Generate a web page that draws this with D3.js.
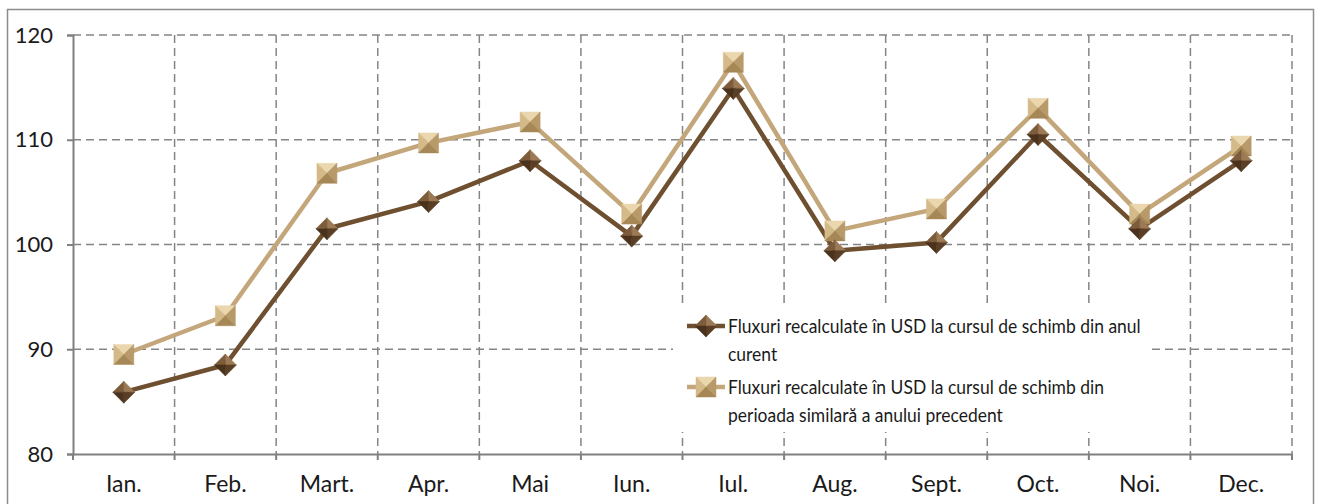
<!DOCTYPE html>
<html>
<head>
<meta charset="utf-8">
<script src="https://cdn.jsdelivr.net/npm/d3@7"></script>
<style>
  body { margin: 0; background: #fff; }
  text { font-family: "Lato", sans-serif; fill: #1a1a1a; }
</style>
</head>
<body>
<div id="chart"></div>
<script>
var months = ["Ian.", "Feb.", "Mart.", "Apr.", "Mai", "Iun.", "Iul.", "Aug.", "Sept.", "Oct.", "Noi.", "Dec."];
var curent = [85.9, 88.5, 101.5, 104.1, 108.0, 100.8, 114.9, 99.4, 100.2, 110.5, 101.5, 108.0];
var precedent = [89.5, 93.2, 106.8, 109.7, 111.7, 102.9, 117.4, 101.3, 103.4, 113.0, 102.9, 109.4];
var yTicks = [80, 90, 100, 110, 120];
var names = ["Fluxuri recalculate în USD la cursul de schimb din anul|curent",
             "Fluxuri recalculate în USD la cursul de schimb din|perioada similară a anului precedent"];

var width = 1324, height = 504;
var margin = {left: 73, right: 32, top: 35, bottom: 50};

var svg = d3.select("#chart").append("svg")
  .attr("width", width)
  .attr("height", height);

// outer frame
svg.append("rect")
  .attr("x", 7.5).attr("y", 9.5)
  .attr("width", 1306).attr("height", 520)
  .attr("fill", "none").attr("stroke", "#8c8c8c").attr("stroke-width", 1.5);

var x = d3.scaleBand().domain(months).range([margin.left, width - margin.right]);
var y = d3.scaleLinear().domain([80, 120]).range([height - margin.bottom, margin.top]);

var plot = svg.append("g");

// grid
plot.selectAll(".hgrid").data(yTicks.slice(1)).enter().append("line")
  .attr("x1", margin.left).attr("x2", width - margin.right)
  .attr("y1", function(d) { return y(d); }).attr("y2", function(d) { return y(d); })
  .attr("stroke", "#858585").attr("stroke-width", 1.5).attr("stroke-dasharray", "8,5");

var vx = months.map(function(m) { return x(m) + x.bandwidth(); });
plot.selectAll(".vgrid").data(vx).enter().append("line")
  .attr("x1", function(d) { return d; }).attr("x2", function(d) { return d; })
  .attr("y1", margin.top).attr("y2", y(80))
  .attr("stroke", "#858585").attr("stroke-width", 1.5).attr("stroke-dasharray", "8,5");

// axes
var yAxis = d3.axisLeft(y).tickValues(yTicks).tickSize(6).tickPadding(14);
var gy = svg.append("g").attr("transform", "translate(" + margin.left + ",0)").call(yAxis);
gy.select(".domain").attr("stroke", "#808080").attr("stroke-width", 2);
gy.selectAll(".tick line").attr("stroke", "#808080").attr("stroke-width", 2);
gy.selectAll("text").style("font-size", "22px").attr("fill", "#1a1a1a");

var xAxis = d3.axisBottom(x).tickSize(0).tickPadding(22);
var gx = svg.append("g").attr("transform", "translate(0," + y(80) + ")").call(xAxis);
gx.select(".domain").attr("stroke", "#808080").attr("stroke-width", 2);
gx.selectAll("text").style("font-size", "23px").attr("fill", "#1a1a1a");
gx.selectAll(".xt").data([margin.left].concat(vx)).enter().append("line")
  .attr("x1", function(d) { return d; }).attr("x2", function(d) { return d; })
  .attr("y1", 0).attr("y2", 6)
  .attr("stroke", "#808080").attr("stroke-width", 2);

// legend box
var lg = svg.append("g");
lg.append("rect").attr("x", 673).attr("y", 306).attr("width", 474).attr("height", 126).attr("fill", "#fff");

var series = [
  {values: curent, color: "#6e4f30", shape: "diamond",
   faces: ["#9c7a55", "#7d5c3b", "#5a3e25", "#4a321d"]},
  {values: precedent, color: "#c3a67a", shape: "square",
   faces: ["#ead7ae", "#d4ba88", "#b89a6a", "#a68856"]}
];

var line = d3.line()
  .x(function(d, i) { return x(months[i]) + x.bandwidth() / 2; })
  .y(function(d) { return y(d); });

// pyramid-like bevelled marker: four triangles meeting at the centre
function marker(sel, s, cx, cy) {
  var pts;
  if (s.shape === "diamond") {
    var r = 11;
    pts = [[cx, cy - r], [cx + r, cy], [cx, cy + r], [cx - r, cy]];
  } else {
    var h = 10;
    pts = [[cx - h, cy - h], [cx + h, cy - h], [cx + h, cy + h], [cx - h, cy + h]];
  }
  // face order: top, left, right, bottom
  var tris = [[pts[0], pts[1]], [pts[3], pts[0]], [pts[1], pts[2]], [pts[2], pts[3]]];
  var g = sel.append("g");
  tris.forEach(function(t, k) {
    g.append("path")
      .attr("d", "M" + t[0] + "L" + t[1] + "L" + cx + "," + cy + "Z")
      .attr("fill", s.faces[k]).attr("stroke", s.faces[k]).attr("stroke-width", 0.5);
  });
}

[series[1], series[0]].forEach(function(s) {
  plot.append("path").datum(s.values)
    .attr("d", line)
    .attr("fill", "none").attr("stroke", s.color).attr("stroke-width", 4.5)
    .attr("stroke-linejoin", "round");
});
[series[1], series[0]].forEach(function(s) {
  var mg = plot.append("g");
  s.values.forEach(function(v, i) {
    marker(mg, s, x(months[i]) + x.bandwidth() / 2, y(v));
  });
});

// legend entries
var lgY = [326, 387];
series.forEach(function(s, i) {
  lg.append("line").attr("x1", 687).attr("x2", 725).attr("y1", lgY[i]).attr("y2", lgY[i])
    .attr("stroke", s.color).attr("stroke-width", 4.5);
  marker(lg, s, 706, lgY[i]);
  var parts = names[i].split("|");
  parts.forEach(function(p, j) {
    lg.append("text")
      .attr("transform", "translate(728," + (lgY[i] + 7 + j * 28) + ") scale(0.92,1)")
      .style("font-size", "19px").text(p);
  });
});
</script>
</body>
</html>
